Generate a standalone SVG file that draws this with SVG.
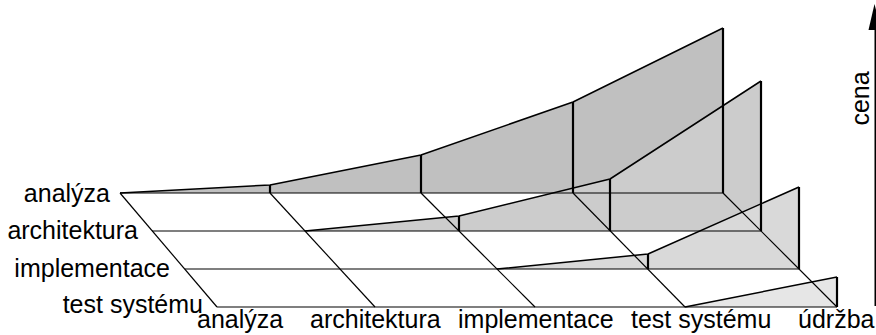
<svg xmlns="http://www.w3.org/2000/svg" width="876" height="335" viewBox="0 0 876 335">
<style>
text{font-family:"Liberation Sans",Arial,sans-serif;font-size:25px;fill:#000}
.l{text-anchor:end}
.grid{stroke:#000;stroke-width:1.2;fill:none}
.edge{stroke:#000;stroke-width:1.5;fill:none;stroke-linejoin:round}
.v{stroke:#000;stroke-width:2.2;fill:none}
</style>
<rect width="876" height="335" fill="#fff"/>
<g id="walls-fill" stroke="none">
<polygon points="120,193 270,185 421,155 573,102 723,28 723,193" fill="#c0c0c0"/>
<polygon points="305,231 459,216 610,179 761,81 761,231" fill="#cccccc"/>
<polygon points="497,269 648,254 799,187 799,269" fill="#d9d9d9"/>
<polygon points="685,307 837,277 837,307" fill="#e6e6e6"/>
</g>
<g id="grid" class="grid">
<line x1="120" y1="193" x2="723" y2="193"/>
<line x1="152" y1="231" x2="761" y2="231"/>
<line x1="185" y1="269" x2="799" y2="269"/>
<line x1="217" y1="307" x2="837" y2="307"/>
<line x1="120" y1="193" x2="217" y2="307"/>
<line x1="270" y1="193" x2="375" y2="307"/>
<line x1="421" y1="193" x2="535" y2="307"/>
<line x1="573" y1="193" x2="685" y2="307"/>
<line x1="723" y1="193" x2="837" y2="307"/>
</g>
<g id="walls-edges">
<polyline class="edge" points="120,193 270,185 421,155 573,102 723,28"/>
<polyline class="edge" points="305,231 459,216 610,179 761,81"/>
<polyline class="edge" points="497,269 648,254 799,187"/>
<polyline class="edge" points="685,307 837,277"/>
<g class="v">
<line x1="270" y1="185" x2="270" y2="193"/>
<line x1="421" y1="155" x2="421" y2="193"/>
<line x1="573" y1="102" x2="573" y2="193"/>
<line x1="723" y1="28" x2="723" y2="193"/>
<line x1="459" y1="216" x2="459" y2="231"/>
<line x1="610" y1="179" x2="610" y2="231"/>
<line x1="761" y1="81" x2="761" y2="231"/>
<line x1="648" y1="254" x2="648" y2="269"/>
<line x1="799" y1="187" x2="799" y2="269"/>
<line x1="837" y1="277" x2="837" y2="307"/>
</g>
</g>
<g id="axis">
<line x1="875.5" y1="306" x2="875.5" y2="26" stroke="#000" stroke-width="2"/>
<polygon points="874.5,4 868.5,30 881,30" fill="#000"/>
<text transform="translate(869,98.5) rotate(-90)" text-anchor="middle">cena</text>
</g>
<g id="row-labels">
<text class="l" x="110" y="202">analýza</text>
<text class="l" x="138" y="239">architektura</text>
<text class="l" x="170" y="277">implementace</text>
<text class="l" x="203" y="313">test systému</text>
</g>
<g id="col-labels">
<text x="197" y="328">analýza</text>
<text x="310" y="328">architektura</text>
<text x="458" y="328">implementace</text>
<text x="631" y="328">test systému</text>
<text x="798" y="328">údržba</text>
</g>
</svg>
